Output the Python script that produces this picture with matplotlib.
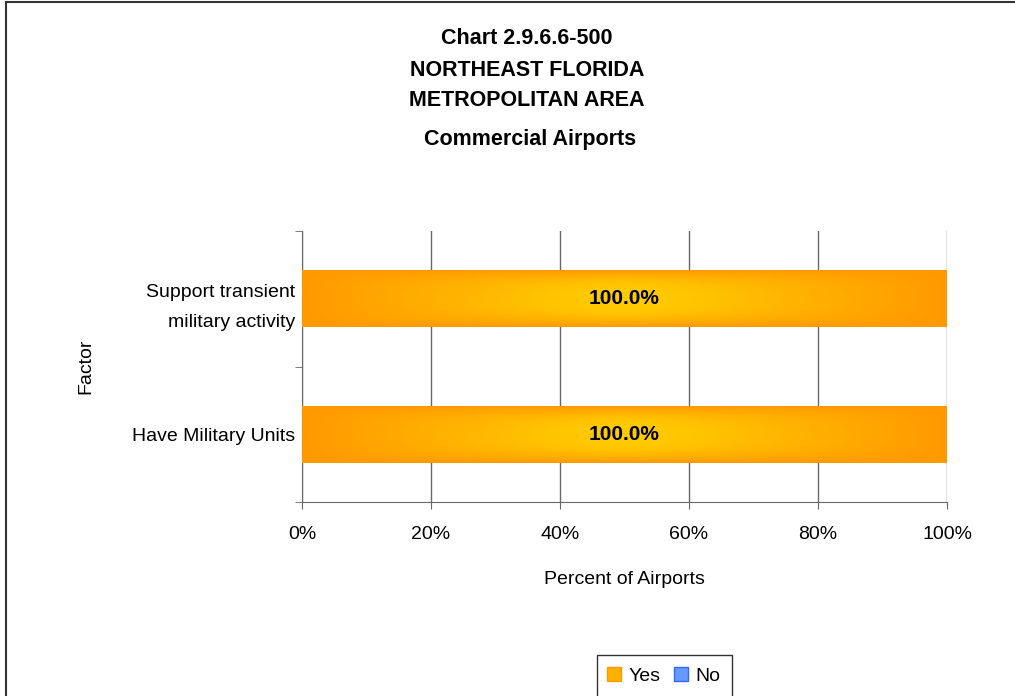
import numpy as np
import matplotlib.pyplot as plt
from matplotlib.lines import Line2D
from matplotlib.patches import Rectangle
from matplotlib.colors import LinearSegmentedColormap

plt.rcParams['font.family'] = ['Liberation Sans', 'DejaVu Sans']

# data
factors = ['Have Military Units', 'Support transient\nmilitary activity']
yes_pct = [100.0, 100.0]
no_pct = [0.0, 0.0]
xticks = [0, 20, 40, 60, 80, 100]
title_lines = ['Chart 2.9.6.6-500', 'NORTHEAST FLORIDA',
               'METROPOLITAN AREA', ' Commercial Airports']

W, H = 1015, 696
fig = plt.figure(figsize=(W / 100, H / 100), dpi=100)
ax = fig.add_axes([302 / W, 1 - 502 / H, (947 - 302) / W, (502 - 231) / H])

grid_col = '#686868'
pos = np.arange(len(factors))
bars = ax.barh(pos, yes_pct, height=0.42, color='#FF9900', zorder=2)
ax.barh(pos, no_pct, left=yes_pct, height=0.42, color='#6699FF', zorder=2)

# gradient fill for yes bars
cmap = LinearSegmentedColormap.from_list('og', ['#FF9900', '#FFB000', '#FFCC00'])
gx = np.linspace(-1, 1, 300)
gy = np.linspace(-1, 1, 60)
XX, YY = np.meshgrid(gx, gy)
val = np.clip(1 - np.abs(XX) ** 1.3, 0, 1) * np.clip(1 - np.abs(YY) ** 3, 0, 1)
for b in bars:
    x0, y0 = b.get_x(), b.get_y()
    im = ax.imshow(val, cmap=cmap, vmin=0, vmax=1, aspect='auto',
                   extent=[x0, x0 + b.get_width(), y0, y0 + b.get_height()],
                   zorder=3, interpolation='bilinear')
    im.set_clip_path(b)
    ax.text(x0 + b.get_width() / 2, b.get_y() + b.get_height() / 2,
            '%.1f%%' % b.get_width(), ha='center', va='center',
            fontsize=15, fontweight='bold', zorder=4)

ax.set_xlim(0, 100)
ax.set_ylim(-0.5, len(factors) - 0.5)
ax.set_xticks(xticks)
ax.set_xticklabels(['%d%%' % t for t in xticks], fontsize=14)
ax.set_yticks(pos)
ax.set_yticklabels(factors, fontsize=14, linespacing=2.0)
ax.set_yticks(np.arange(-0.5, len(factors)), minor=True)
ax.tick_params(axis='y', which='major', length=0, pad=5)
ax.tick_params(axis='y', which='minor', length=5, color=grid_col)
ax.tick_params(axis='x', length=5, color=grid_col, pad=12.5)
ax.grid(axis='x', color=grid_col, linewidth=1, zorder=1)
ax.set_axisbelow(True)
for s in ['top', 'right']:
    ax.spines[s].set_visible(False)
for s in ['left', 'bottom']:
    ax.spines[s].set_color(grid_col)
ax.set_xlabel('Percent of Airports', fontsize=14, va='center')
ax.xaxis.set_label_coords(0.5, -(580 - 502) / 271)
ax.set_ylabel('Factor', fontsize=14, va='center')
ax.yaxis.set_label_coords((86 - 302) / 645, 0.5)

# title, one text per line (last line sits a bit lower in the original)
for line, ypx in zip(title_lines, [38, 70, 100, 139]):
    fig.text(527 / W, 1 - ypx / H, line, ha='center', va='center',
             fontsize=15.5, fontweight='bold')

# outer border (cropped at right/bottom)
fig.patches.append(Rectangle((6 / W, -0.1), 1.2, 1 - 1.5 / H + 0.1,
                             transform=fig.transFigure, fill=False,
                             edgecolor='#333333', linewidth=1.5))
# legend box (cropped at bottom)
fig.patches.append(Rectangle((597 / W, -0.1), (732 - 597) / W, 1 - 655 / H + 0.1,
                             transform=fig.transFigure, fill=False,
                             edgecolor='#333333', linewidth=1))

legend_elements = [
    Line2D([0], [0], marker='s', color='w', label='Yes',
           markerfacecolor='#FFB000', markeredgecolor='#FF9900', markersize=10),
    Line2D([0], [0], marker='s', color='w', label='No',
           markerfacecolor='#6699FF', markeredgecolor='#3366FF', markersize=10),
]
fig.legend(handles=legend_elements, loc='center', ncol=2, frameon=False,
           bbox_to_anchor=(664 / W, 1 - 676 / H), fontsize=14,
           handlelength=0.7, handletextpad=0.4, columnspacing=0.7)

fig.savefig('out.png', dpi=100)
